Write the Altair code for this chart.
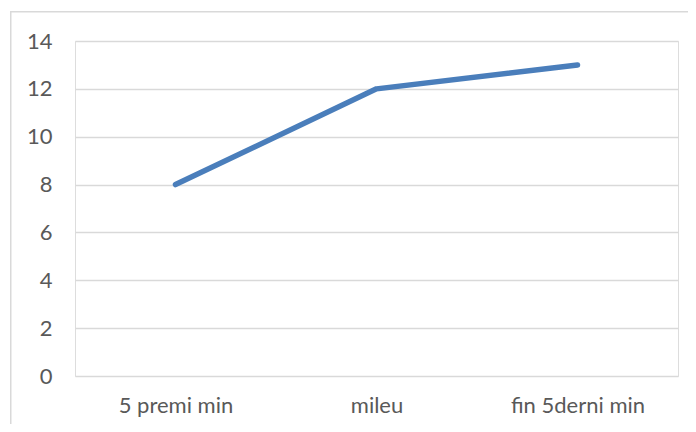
import altair as alt
import pandas as pd

categories = ["5 premi min", "mileu", "fin 5derni min"]
values = [8, 12, 13]
y_ticks = [0, 2, 4, 6, 8, 10, 12, 14]

df = pd.DataFrame({"cat": categories, "val": values})

FONT = "Lato"
GRID = "#D9D9D9"
TXT = "#595959"

line = alt.Chart(df).mark_line(
    color="#4A7EBB", strokeWidth=5.5, strokeCap="round", strokeJoin="round"
).encode(
    x=alt.X("cat:N", sort=categories, title=None,
            scale=alt.Scale(type="point", padding=0.5),
            axis=alt.Axis(labelAngle=0, domain=False, ticks=False, grid=False,
                          labelPadding=19, labelFontSize=22, labelFont=FONT,
                          labelColor=TXT)),
    y=alt.Y("val:Q", title=None,
            scale=alt.Scale(domain=[0, 14], nice=False),
            axis=alt.Axis(values=y_ticks, domain=False, ticks=False,
                          grid=True, gridColor=GRID, gridWidth=1.5,
                          labelPadding=23, labelFontSize=22, labelFont=FONT,
                          labelColor=TXT)),
)

border = alt.Chart(pd.DataFrame({"b": [0]})).mark_rect(
    filled=False, stroke=GRID, strokeWidth=1.5
).encode(
    x=alt.value(-64.25), x2=alt.value(640),
    y=alt.value(-29.25), y2=alt.value(420),
)

chart = alt.layer(border, line).properties(
    width=603, height=335,
    autosize=alt.AutoSizeParams(type="none"),
    padding={"left": 67, "top": 33, "right": 10, "bottom": 48},
).configure_view(stroke=None).configure(background="white")

chart.save("out.html", embed_options={"renderer": "svg", "actions": False})
